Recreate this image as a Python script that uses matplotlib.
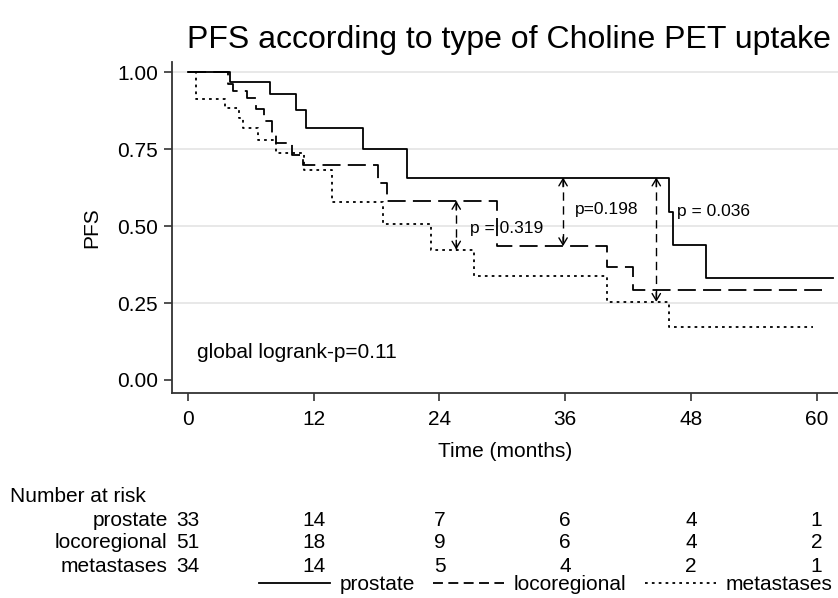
import numpy as np
import matplotlib
matplotlib.use("Agg")
import matplotlib.pyplot as plt
import matplotlib.transforms as mtransforms
from matplotlib.lines import Line2D

plt.rcParams['font.family'] = ['Liberation Sans', 'DejaVu Sans']

# Kaplan-Meier step data (time in months, survival after the step)
t_prostate = [0, 4.0, 7.8, 10.3, 11.3, 16.7, 20.9, 45.9, 46.3, 49.4, 61.6]
s_prostate = [1.0, 0.970, 0.931, 0.877, 0.819, 0.751, 0.658, 0.547, 0.438, 0.333, 0.333]

t_locoreg = [0, 3.8, 4.3, 5.6, 6.5, 7.2, 8.0, 8.4, 9.9, 11.0, 18.1, 19.0, 29.5, 40.0, 42.5, 60.5]
s_locoreg = [1.0, 0.961, 0.940, 0.916, 0.880, 0.843, 0.802, 0.770, 0.732, 0.698, 0.640, 0.582,
             0.435, 0.366, 0.294, 0.294]

t_metast = [0, 0.75, 3.5, 4.9, 5.2, 6.7, 8.4, 11.05, 13.7, 18.6, 23.2, 27.3, 40.0, 45.9, 59.7]
s_metast = [1.0, 0.912, 0.885, 0.850, 0.820, 0.780, 0.738, 0.684, 0.578, 0.506, 0.424, 0.338,
            0.254, 0.173, 0.173]

# pairwise comparison arrows: x, y_top, y_bottom, label, label x, label y
arrow_x = [25.6, 35.8, 44.7]
arrow_top = [0.582, 0.658, 0.658]
arrow_bot = [0.424, 0.435, 0.254]
arrow_lbl = ["p = 0.319", "p=0.198", "p = 0.036"]
lbl_x = [26.9, 36.9, 46.7]
lbl_y = [0.494, 0.555, 0.549]

ticks = [0, 12, 24, 36, 48, 60]
groups = ["prostate", "locoregional", "metastases"]
at_risk = [[33, 14, 7, 6, 4, 1],
           [51, 18, 9, 6, 4, 2],
           [34, 14, 5, 4, 2, 1]]

fs = 15
fig = plt.figure(figsize=(8.38, 5.98), dpi=100)
ax = fig.add_axes([0.205, 0.343, 0.795, 0.553])

lw = 1.3
dash = (0, (10, 4))
dot = (0, (1.5, 2.3))
ax.step(t_prostate, s_prostate, where='post', color='black', lw=lw)
ax.step(t_locoreg, s_locoreg, where='post', color='black', lw=lw, linestyle=dash)
ax.step(t_metast, s_metast, where='post', color='black', lw=lw, linestyle=dot)

for x, yt, yb, lb, lx, ly in zip(arrow_x, arrow_top, arrow_bot, arrow_lbl, lbl_x, lbl_y):
    ax.plot([x, x], [yt, yb], color='black', lw=1.0, linestyle=(0, (6, 4)))
    for y0, y1 in [(yt - 0.03, yt), (yb + 0.03, yb)]:
        ax.annotate('', xy=(x, y1), xytext=(x, y0),
                    arrowprops=dict(arrowstyle='->,head_length=0.5,head_width=0.3',
                                    color='black', lw=1.0, shrinkA=0, shrinkB=0))
    ax.text(lx, ly, lb, fontsize=12.5, ha='left', va='center')

ax.text(0.8, 0.088, "global logrank-p=0.11", fontsize=fs, ha='left', va='center')

ax.set_xlim(-1.56, 62.05)
ax.set_ylim(-0.042, 1.033)
ax.set_xticks(ticks)
ax.set_yticks([0, 0.25, 0.5, 0.75, 1.0])
ax.set_yticklabels(["0.00", "0.25", "0.50", "0.75", "1.00"])
ax.tick_params(labelsize=fs, length=6, width=1.2, color='#333333')
ax.tick_params(axis='x', pad=6)
ax.tick_params(axis='y', pad=4)
for y in [0.25, 0.5, 0.75, 1.0]:
    ax.axhline(y, color='#e4e4e4', lw=1.2, zorder=0)
for s in ['top', 'right']:
    ax.spines[s].set_visible(False)
for s in ['left', 'bottom']:
    ax.spines[s].set_linewidth(1.3)
    ax.spines[s].set_color('#333333')

ax.set_ylabel("PFS", fontsize=fs, labelpad=11)
ax.set_xlabel("Time (months)", fontsize=fs, labelpad=10)
fig.text(0.607, 0.933, "PFS according to type of Choline PET uptake", fontsize=23,
         ha='center', va='center')

# number at risk table
trans = mtransforms.blended_transform_factory(ax.transData, fig.transFigure)
fig.text(0.012, 1 - 497 / 598, "Number at risk", fontsize=fs, ha='left', va='center')
row_y = [1 - 520 / 598, 1 - 543 / 598, 1 - 566 / 598]
for g, counts, ry in zip(groups, at_risk, row_y):
    fig.text(0.200, ry, g, fontsize=fs, ha='right', va='center')
    for tk, n in zip(ticks, counts):
        ax.text(tk, ry, str(n), fontsize=fs, ha='center', va='center', transform=trans)

handles = [Line2D([], [], color='black', lw=lw),
           Line2D([], [], color='black', lw=lw, linestyle=(0, (5.5, 3))),
           Line2D([], [], color='black', lw=lw, linestyle=dot)]
fig.legend(handles, groups, loc='center', bbox_to_anchor=(0.651, 1 - 585 / 598),
           ncol=3, frameon=False, fontsize=fs, handlelength=3.4,
           handletextpad=0.45, columnspacing=0.9, borderpad=0, borderaxespad=0)

fig.savefig("out.png", dpi=100)
